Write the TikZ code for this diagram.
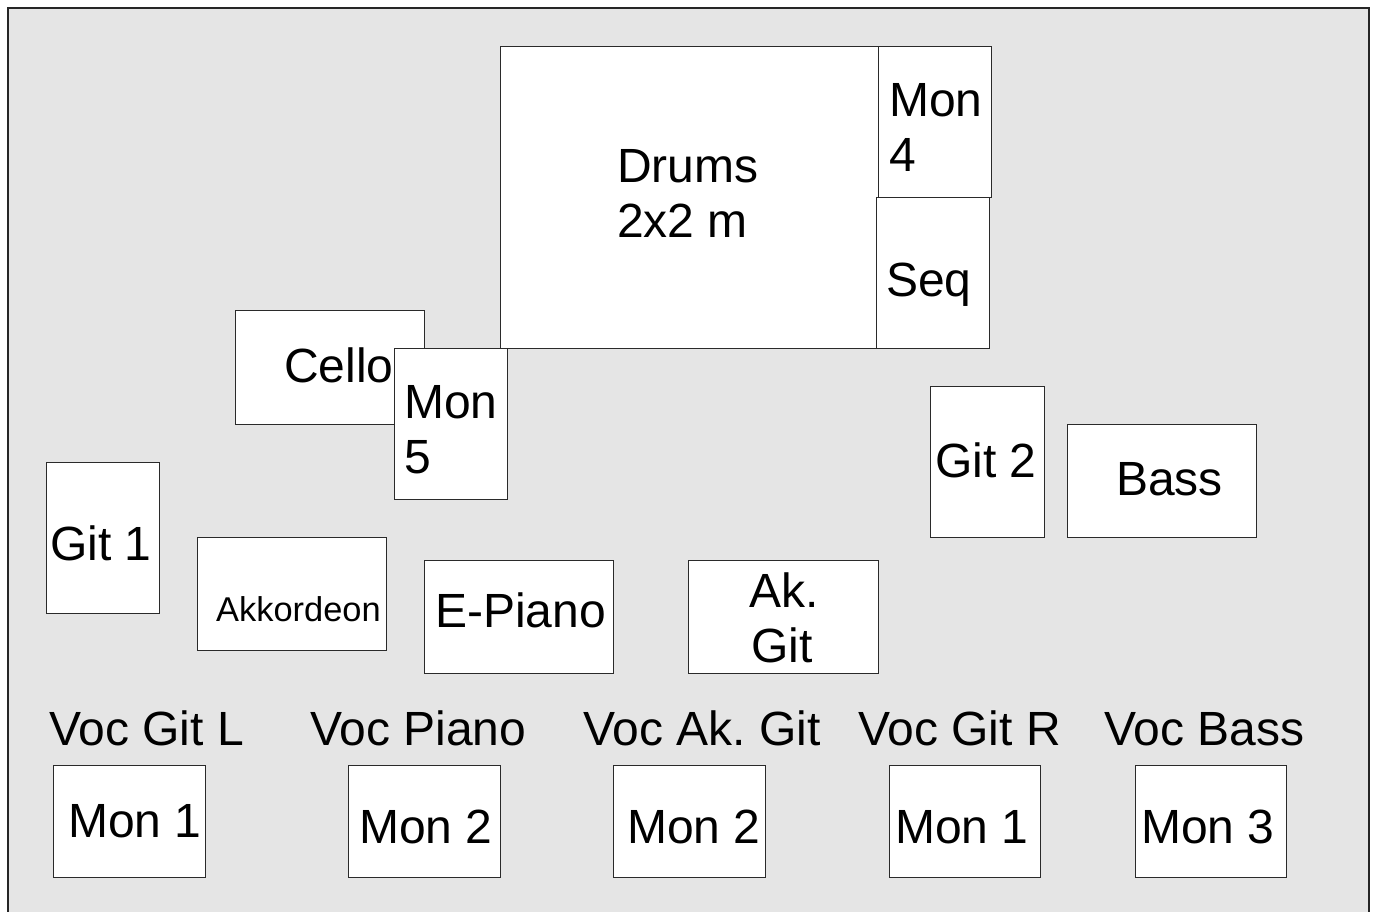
\documentclass[tikz,border=0pt]{standalone}
\usepackage{fontspec}
\setmainfont{Liberation Sans}
\frenchspacing
\definecolor{stagebg}{HTML}{E5E5E5}
\definecolor{edge}{HTML}{2A2A2A}
\tikzset{
  box/.style={draw=edge, line width=1.4pt, fill=white, inner sep=0pt, anchor=north west},
  txt/.style={inner sep=0pt, anchor=base west, font=\fontsize{48}{55}\selectfont},
  smalltxt/.style={inner sep=0pt, anchor=base west, font=\fontsize{34.4}{40}\selectfont}
}
\newcommand{\bx}[5]{\node[box, minimum width=#4, minimum height=#5] (#1) at (#2,#3) {};}
\begin{document}
\begin{tikzpicture}[x=1pt,y=-1pt]
\clip (0,0) rectangle (1374,912);
\fill[white] (0,0) rectangle (1374,912);
\draw[fill=stagebg, draw=black!85, line width=2pt] (8,8) rectangle (1369,940);
% boxes
\bx{drums}{500}{46}{378}{302}
\bx{monfour}{878}{46}{113}{151}
\bx{seq}{876}{197}{113}{151}
\bx{cello}{235}{310}{189}{114}
\bx{monfive}{394}{348}{113}{151}
\bx{gitone}{46}{462}{113}{151}
\bx{akk}{197}{537}{189}{113}
\bx{epiano}{424}{560}{189}{113}
\bx{akgit}{688}{560}{190}{113}
\bx{gittwo}{930}{386}{114}{151}
\bx{bass}{1067}{424}{189}{113}
\bx{mona}{53}{765}{152}{112}
\bx{monb}{348}{765}{152}{112}
\bx{monc}{613}{765}{152}{112}
\bx{mond}{889}{765}{151}{112}
\bx{mone}{1135}{765}{151}{112}
% texts
\node[txt] (drumsA) at (617,183) {Drums};
\node[txt] (drumsB) at (617,238) {2x2 m};
\node[txt] (monfourA) at (889,117) {Mon};
\node[txt] (monfourB) at (889,172) {4};
\node[txt] (seqT) at (886,297) {Seq};
\node[txt] (celloT) at (284,382) {Cello};
\node[txt] (monfiveA) at (404,418) {Mon};
\node[txt] (monfiveB) at (404,473) {5};
\node[txt] (gitoneT) at (50,560) {Git 1};
\node[smalltxt] (akkT) at (216,621) {Akkordeon};
\node[txt] (epianoT) at (435,627) {E-Piano};
\node[txt, anchor=base] (akgitA) at (784,607) {Ak.};
\node[txt, anchor=base] (akgitB) at (782,662) {Git};
\node[txt] (gittwoT) at (935,477) {Git 2};
\node[txt] (bassT) at (1116,495) {Bass};
\node[txt] (monaT) at (68,837) {Mon 1};
\node[txt] (monbT) at (359,843) {Mon 2};
\node[txt] (moncT) at (627,843) {Mon 2};
\node[txt] (mondT) at (895,843) {Mon 1};
\node[txt] (moneT) at (1141,843) {Mon 3};
\node[txt] (vocA) at (49,745) {Voc Git L};
\node[txt] (vocB) at (310,745) {Voc Piano};
\node[txt] (vocC) at (583,745) {Voc Ak. Git};
\node[txt] (vocD) at (858,745) {Voc Git R};
\node[txt] (vocE) at (1104,745) {Voc Bass};
\end{tikzpicture}
\end{document}
